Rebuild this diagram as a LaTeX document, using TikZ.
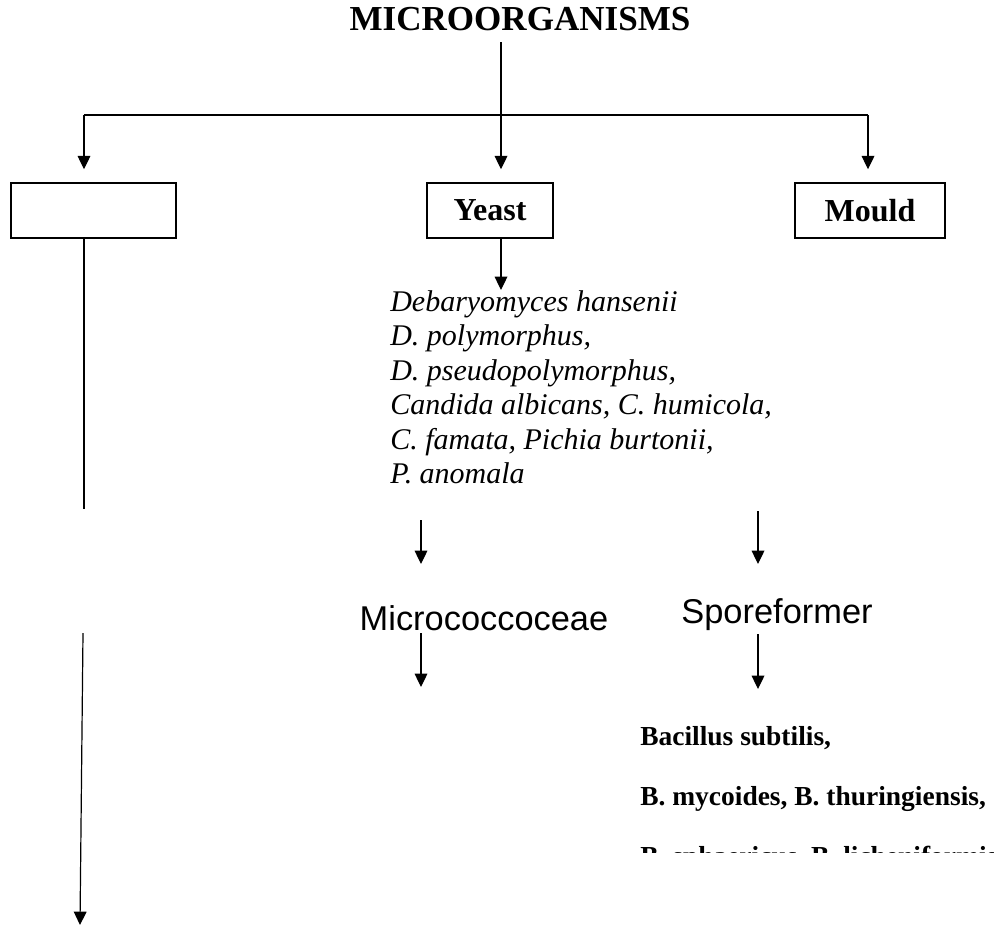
\documentclass[tikz,border=0pt]{standalone}
\usepackage{fontspec}
\setmainfont{Liberation Serif}
\setsansfont{Liberation Sans}
\usepackage{tikz}
\usetikzlibrary{arrows.meta}
\tikzset{
  box/.style={
    draw, line width=1.1pt, inner sep=0pt, minimum height=41.25pt,
    font=\bfseries\fontsize{24}{28}\selectfont},
  link/.style={line width=0.9pt},
  arr/.style={link, -{Triangle[length=10pt,width=9.5pt]}},
  heading/.style={font=\bfseries\fontsize{26.3}{30}\selectfont, inner sep=0pt, anchor=base},
  species/.style={font=\itshape\fontsize{22.5}{25.9}\selectfont,
    align=left, inner sep=0pt, anchor=north west},
  family/.style={font=\sffamily\fontsize{25.8}{30}\selectfont, inner sep=0pt, anchor=base},
  baclabel/.style={font=\bfseries\fontsize{20.6}{24}\selectfont, inner sep=0pt, anchor=base west},
}

\begin{document}
\begin{tikzpicture}[x=0.75pt, y=-0.75pt]
  \useasboundingbox (0,0) rectangle (994,928);

  \node[heading] (micro) at (520,30) {MICROORGANISMS};

  \coordinate (top) at (501,42);
  \coordinate (split) at (501,115);
  \coordinate (b1) at (84,115);
  \coordinate (b3) at (868,115);

  \node[box, minimum width=123.75pt] (blank) at (93.5,210.5) {};
  \node[box, minimum width=94.5pt] (yeast) at (490,210.5) {Yeast};
  \node[box, minimum width=112.5pt] (mould) at (870,210.5) {Mould};

  \draw[link] (top) -- (split);
  \draw[link] (b1) -- (b3);
  \draw[arr, shorten >=9.75pt] (b1) -- (b1 |- blank.north);
  \draw[arr, shorten >=9.75pt] (split) -- (split |- yeast.north);
  \draw[arr, shorten >=9.75pt] (b3) -- (b3 |- mould.north);

  \node[species] (yeastlist) at (390,290)
    {Debaryomyces hansenii\\ D. polymorphus,\\ D. pseudopolymorphus,\\
     Candida albicans, C. humicola,\\ C. famata, Pichia burtonii,\\ P. anomala};
  \draw[arr] (yeast.south -| split) -- (split |- yeastlist.north);

  % left branch
  \coordinate (gap1) at (84,509);
  \coordinate (gap2) at (83,633);
  \coordinate (bottom) at (80,925);
  \draw[link] (blank.south -| b1) -- (gap1);
  \draw[arr] (gap2) -- (bottom);

  \node[family] (micrococ) at (484,630) {Micrococcoceae};
  \node[family] (spore) at (777,623) {Sporeformer};

  \coordinate (m1) at (421,520);
  \coordinate (m2) at (421,564);
  \coordinate (m3) at (421,633);
  \coordinate (m4) at (421,687);
  \coordinate (s1) at (758,511);
  \coordinate (s2) at (758,564);
  \coordinate (s3) at (758,634);
  \coordinate (s4) at (758,689);
  \draw[arr] (m1) -- (m2);
  \draw[arr] (s1) -- (s2);
  \draw[arr] (m3) -- (m4);
  \draw[arr] (s3) -- (s4);

  \node[baclabel] (bac1) at (640,745) {Bacillus subtilis,};
  \node[baclabel] (bac2) at (640,805) {B. mycoides, B. thuringiensis,};
  \begin{scope}
    \clip (600,820) rectangle (994,852);
    \node[baclabel] (bac3) at (640,865) {B. sphaericus, B. licheniformis};
  \end{scope}

\end{tikzpicture}
\end{document}
